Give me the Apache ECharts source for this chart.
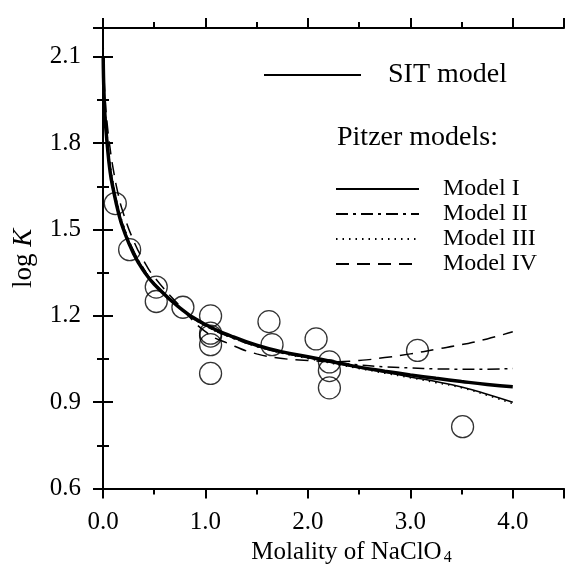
<!DOCTYPE html>
<html>
<head>
<meta charset="utf-8">
<script src="https://cdn.jsdelivr.net/npm/echarts@6/dist/echarts.min.js"></script>
<style>
  html, body { margin: 0; padding: 0; background: #fff; }
  #chart { width: 573px; height: 571px; }
</style>
</head>
<body>
<div id="chart"></div>
<script>
// molality grid used for the model curves
const molality = [0.002, 0.005, 0.01, 0.02, 0.04, 0.07, 0.1, 0.15, 0.2, 0.3, 0.4, 0.5, 0.75,
  1.0, 1.25, 1.5, 1.75, 2.0, 2.25, 2.5, 2.75, 3.0, 3.25, 3.5, 3.75, 4.0];

const sitModel = [2.10, 2.03, 1.97, 1.89, 1.80, 1.70, 1.64, 1.56, 1.50, 1.415, 1.355, 1.31, 1.228,
  1.17, 1.13, 1.098, 1.075, 1.058, 1.040, 1.022, 1.008, 0.995, 0.983, 0.972, 0.962, 0.954];
const modelI = [2.12, 2.04, 1.98, 1.90, 1.81, 1.71, 1.645, 1.565, 1.505, 1.42, 1.36, 1.312, 1.228,
  1.168, 1.128, 1.097, 1.073, 1.055, 1.037, 1.020, 1.004, 0.988, 0.972, 0.953, 0.928, 0.90];
const modelII = [2.13, 2.05, 1.99, 1.91, 1.82, 1.72, 1.65, 1.57, 1.51, 1.425, 1.362, 1.314, 1.228,
  1.166, 1.125, 1.094, 1.071, 1.055, 1.040, 1.030, 1.023, 1.019, 1.016, 1.015, 1.015, 1.017];
const modelIII = [2.14, 2.06, 2.00, 1.92, 1.83, 1.73, 1.66, 1.575, 1.515, 1.425, 1.362, 1.312, 1.225,
  1.165, 1.125, 1.094, 1.070, 1.052, 1.034, 1.017, 1.001, 0.985, 0.968, 0.950, 0.924, 0.895];
const modelIV = [2.17, 2.08, 2.03, 1.96, 1.87, 1.78, 1.71, 1.62, 1.555, 1.46, 1.39, 1.335, 1.235,
  1.145, 1.100, 1.068, 1.052, 1.045, 1.041, 1.045, 1.055, 1.068, 1.084, 1.100, 1.120, 1.145];

// measured log K values
const measured = [[0.12, 1.59], [0.26, 1.43], [0.52, 1.30], [0.52, 1.25], [0.78, 1.23],
  [1.05, 1.20], [1.05, 1.14], [1.05, 1.13], [1.05, 1.10], [1.05, 1.00],
  [1.62, 1.18], [1.65, 1.10], [2.08, 1.12], [2.21, 1.04], [2.21, 1.01], [2.21, 0.95],
  [3.07, 1.08], [3.51, 0.815]];

const serif = "Liberation Serif";
const pair = (ys) => molality.map((m, i) => [m, ys[i]]);

const chart = echarts.init(document.getElementById("chart"));

const axisCommon = {
  axisLine: { lineStyle: { color: "#000", width: 2 } },
  axisTick: { length: 10, lineStyle: { color: "#000", width: 2 } },
  minorTick: { show: true, splitNumber: 2, length: 6, lineStyle: { color: "#000", width: 2 } },
  splitLine: { show: false },
};

function curve(name, ys, width, type) {
  return {
    name: name,
    type: "line",
    data: pair(ys),
    smooth: true,
    symbol: "none",
    lineStyle: { color: "#000", width: width, type: type },
    itemStyle: { color: "#000" },
  };
}

const option = {
  animation: false,
  backgroundColor: "#fff",
  grid: { left: 103, top: 28, right: 9, bottom: 82 },
  xAxis: [
    Object.assign({}, axisCommon, {
      type: "value", min: 0, max: 4.5, interval: 1, position: "bottom",
      axisLabel: {
        color: "#000", fontFamily: serif, fontSize: 25, margin: 21, showMaxLabel: false,
        formatter: (v) => (v % 1 === 0 ? v.toFixed(1) : ""),
      },
      name: "{t|Molality of NaClO}{s|4}",
      nameLocation: "middle",
      nameGap: 48,
      nameTextStyle: {
        padding: [0, 0, 0, 36],
        rich: {
          t: { fontFamily: serif, fontSize: 25, color: "#000" },
          s: { fontFamily: serif, fontSize: 16, color: "#000", verticalAlign: "bottom", padding: [12, 0, 0, 2] },
        },
      },
    }),
    Object.assign({}, axisCommon, {
      type: "value", min: 0, max: 4.5, interval: 1, position: "top",
      axisLabel: { show: false },
    }),
  ],
  yAxis: [
    Object.assign({}, axisCommon, {
      type: "value", min: 0.6, max: 2.2, interval: 0.3, position: "left",
      axisLabel: {
        color: "#000", fontFamily: serif, fontSize: 25, margin: 22, showMaxLabel: false,
        formatter: (v) => v.toFixed(1),
      },
      name: "{t|log }{i|K}",
      nameLocation: "middle",
      nameGap: 66,
      nameRotate: 90,
      nameTextStyle: {
        rich: {
          t: { fontFamily: serif, fontSize: 27, color: "#000" },
          i: { fontFamily: serif, fontSize: 27, color: "#000", fontStyle: "italic" },
        },
      },
    }),
    Object.assign({}, axisCommon, {
      type: "value", min: 0.6, max: 2.2, interval: 0.3, position: "right",
      axisLabel: { show: false },
    }),
  ],
  legend: [
    {
      data: ["SIT model"],
      left: 258, top: 56,
      itemWidth: 97, itemHeight: 18,
      itemStyle: { opacity: 0 },
      textStyle: { fontFamily: serif, fontSize: 28, lineHeight: 18, color: "#000", padding: [0, 0, 0, 22] },
      selectedMode: false,
    },
    {
      data: ["Model I", "Model II", "Model III", "Model IV"],
      orient: "vertical",
      left: 330, top: 172,
      itemWidth: 83, itemHeight: 18, itemGap: 1,
      itemStyle: { opacity: 0 },
      textStyle: { fontFamily: serif, fontSize: 24, lineHeight: 18, color: "#000", padding: [0, 0, 0, 19] },
      selectedMode: false,
    },
  ],
  graphic: [
    {
      type: "text", left: 337, top: 124,
      style: { text: "Pitzer models:", font: "28px " + serif, fill: "#000" },
    },
  ],
  series: [
    curve("SIT model", sitModel, 3.5, "solid"),
    curve("Model I", modelI, 1.5, "solid"),
    curve("Model II", modelII, 1.5, [12, 5, 3, 5]),
    curve("Model III", modelIII, 1.5, [1.5, 5]),
    curve("Model IV", modelIV, 1.5, [13, 8]),
    {
      name: "data",
      type: "scatter",
      data: measured,
      symbol: "circle",
      symbolSize: 22,
      itemStyle: { color: "rgba(0,0,0,0)", borderColor: "#000", borderWidth: 1.3 },
    },
  ],
};

chart.setOption(option);
</script>
</body>
</html>
